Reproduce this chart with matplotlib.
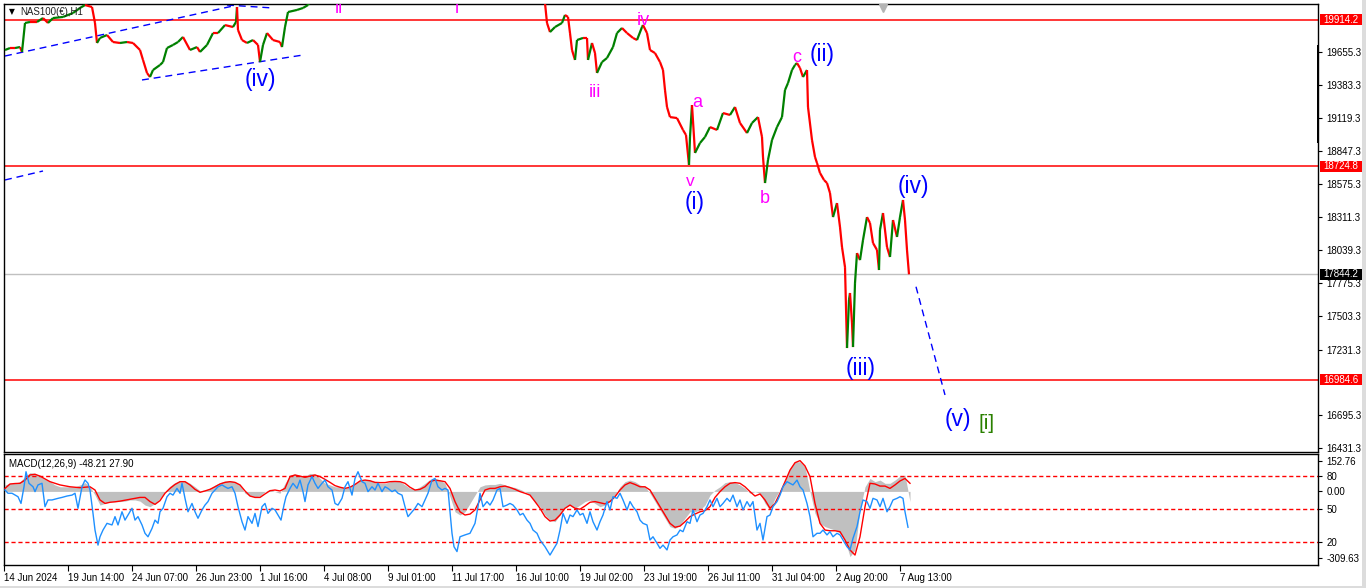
import matplotlib
matplotlib.use("Agg")
import matplotlib.pyplot as plt
import numpy as np
from matplotlib.collections import LineCollection
from matplotlib.patches import Rectangle

plt.rcParams['font.family'] = ['Liberation Sans', 'DejaVu Sans']

# ---- data (x = H1 bar number, 1 px per bar) ----
# price path before the top of the window is left
price_seg1 = [(5, 19670), (10, 19686), (15, 19686), (20, 19694), (22, 19654), (25, 19890),
              (30, 19898), (37, 19898), (43, 19930), (48, 19890), (53, 19930), (63, 19939),
              (73, 19971), (80, 20012), (85, 20036), (92, 20020), (95, 19890), (97, 19727),
              (100, 19768), (107, 19792), (113, 19735), (120, 19727), (127, 19735), (133, 19727),
              (140, 19670), (143, 19589), (147, 19483), (150, 19450), (153, 19507), (160, 19548),
              (163, 19572), (167, 19686), (173, 19711), (178, 19735), (183, 19776), (190, 19670),
              (197, 19694), (200, 19654), (207, 19711), (213, 19808), (218, 19808), (225, 19873),
              (233, 19857), (236, 19898), (237, 20020), (238, 19833), (242, 19751), (247, 19727),
              (253, 19751), (258, 19711), (260, 19572), (263, 19711), (267, 19808), (273, 19751),
              (280, 19735), (282, 19694), (285, 19857), (288, 19979), (297, 19996), (303, 20012),
              (308, 20036), (312, 20090)]
# price path after it comes back into view
price_seg2 = [(543, 20090), (545, 20052), (547, 19890), (550, 19816), (555, 19857), (562, 19890),
              (565, 19955), (568, 19939), (570, 19808), (572, 19670), (575, 19589), (577, 19751),
              (583, 19768), (587, 19768), (588, 19589), (592, 19727), (595, 19645), (597, 19483),
              (602, 19572), (607, 19605), (613, 19694), (617, 19808), (622, 19849), (627, 19808),
              (633, 19768), (637, 19751), (642, 19857), (643, 19873), (647, 19808), (650, 19670),
              (655, 19645), (660, 19572), (663, 19507), (665, 19344), (667, 19206), (670, 19124),
              (677, 19116), (683, 19019), (686, 18978), (689, 18734), (690, 18962), (692, 19222),
              (695, 18832), (700, 18913), (705, 18962), (710, 19043), (717, 19019), (723, 19157),
              (730, 19141), (735, 19206), (740, 19076), (747, 18994), (752, 19076), (758, 19124),
              (762, 18962), (763, 18799), (765, 18587), (768, 18775), (772, 18937), (777, 19043),
              (782, 19124), (785, 19344), (788, 19401), (792, 19507), (795, 19548), (797, 19564),
              (800, 19523), (803, 19450), (807, 19507), (808, 19206), (812, 18937), (815, 18799),
              (817, 18750), (820, 18669), (824, 18612), (827, 18587), (830, 18506), (833, 18310),
              (837, 18424), (840, 18229), (842, 18066), (845, 17903), (847, 17244), (849, 17635),
              (850, 17692), (852, 17448), (853, 17252), (855, 17773), (857, 18017), (860, 17960),
              (863, 18123), (867, 18310), (870, 18262), (873, 18099), (877, 18042), (879, 17879),
              (880, 18205), (883, 18343), (887, 18066), (890, 17985), (893, 18286), (897, 18148),
              (900, 18310), (903, 18449), (905, 18286), (907, 18042), (909, 17844.2)]

levels_red = [19914.2, 18724.8, 16984.6]
last_close = 17844.2
price_ticks = [19655.3, 19383.3, 19119.3, 18847.3, 18575.3, 18311.3, 18039.3,
               17775.3, 17503.3, 17231.3, 16695.3, 16431.3]

# blue dashed trend lines ((bar, price), (bar, price))
trend_lines = [((5, 19621), (233, 20028)), ((227, 20036), (273, 20012)),
               ((142, 19426), (303, 19629)), ((5, 18612), (43, 18685)),
               ((916, 17743), (945, 16862))]

# wave labels: text, bar, price, colour, size
waves = [("(iv)", 260, 19426, 'blue', 16.5), ("ii", 339, 19971, '#ff00ff', 13),
         ("i", 457, 19971, '#ff00ff', 13), ("iv", 643, 19914, '#ff00ff', 13),
         ("iii", 595, 19328, '#ff00ff', 13), ("a", 697, 19239, '#ff00ff', 13),
         ("v", 690, 18600, '#ff00ff', 12.5), ("(i)", 695, 18432, 'blue', 16.5),
         ("b", 765, 18465, '#ff00ff', 13), ("c", 797, 19605, '#ff00ff', 13),
         ("(ii)", 822, 19637, 'blue', 16.5), ("(iv)", 913, 18555, 'blue', 16.5),
         ("(iii)", 861, 17081, 'blue', 16.5), ("(v)", 958, 16666, 'blue', 16.5),
         ("[i]", 987, 16626, '#2a8000', 15)]

# MACD panel, every 5 bars from bar 5 to 910
macd_bar = list(range(5, 915, 5))
macd_hist = [28, 35, 35, 42, 64, 81, 78, 64, 52, 42,
             28, 20, 20, 20, 20, 28, 38, 20, -16, -59,
             -52, -44, -44, -44, -42, -37, -37, -42, -59, -66,
             -52, -30, -1, 23, 38, 46, 46, 35, 20, 3,
             6, 13, 28, 38, 45, 46, 42, 28, -8, -20,
             -23, -20, -1, 9, -1, -8, 35, 71, 75, 64,
             66, 78, 75, 56, 35, 28, 20, 20, 13, 20,
             35, 49, 52, 49, 42, 35, 35, 42, 45, 42,
             28, 13, 9, 20, 35, 52, 56, 49, 35, -23,
             -88, -102, -88, -52, -16, 20, 28, 30, 30, 35,
             28, 20, 17, 9, -1, -16, -44, -66, -102, -124,
             -131, -102, -66, -59, -73, -59, -44, -37, -52, -66,
             -59, -44, -16, 20, 42, 49, 42, 28, 20, -8,
             -44, -80, -116, -152, -160, -145, -116, -88, -88, -80,
             -59, -16, 6, 20, 38, 42, 38, 28, 13, -8,
             -1, -8, -52, -80, -30, 6, 49, 100, 128, 128,
             107, -1, -95, -138, -152, -160, -167, -181, -210, -282,
             -253, -80, 20, 56, 42, 49, 35, 35, 49, 66,
             70, -44]
macd_signal = [13, 32, 34, 35, 49, 71, 74, 66, 54, 42,
               35, 28, 24, 20, 18, 16, 18, 20, 6, -37,
               -52, -47, -45, -42, -38, -34, -30, -26, -26, -44,
               -56, -40, -8, 13, 30, 42, 42, 28, 9, -4,
               2, 9, 20, 32, 39, 42, 39, 28, 2, -20,
               -26, -26, -11, 3, 6, 2, 13, 64, 71, 66,
               61, 66, 71, 64, 52, 39, 25, 18, 13, 18,
               30, 45, 49, 46, 39, 38, 38, 42, 43, 42,
               35, 18, 6, 9, 20, 42, 49, 46, 42, 13,
               -44, -88, -102, -98, -80, -37, 6, 13, 13, 20,
               23, 17, 9, -1, -8, -16, -44, -73, -109, -128,
               -124, -102, -73, -59, -73, -77, -63, -47, -44, -49,
               -54, -44, -23, 6, 28, 38, 30, 20, 20, 6,
               -30, -66, -102, -138, -155, -150, -131, -109, -98, -88,
               -83, -66, -26, -1, 20, 35, 38, 35, 20, -1,
               -20, -11, -37, -73, -52, -8, 42, 92, 124, 133,
               110, 64, -52, -138, -167, -170, -170, -174, -210, -253,
               -275, -196, -66, 35, 32, 23, 23, 13, 28, 45,
               56, 35]
macd_line = [(5, 6), (8, -8), (12, -8), (18, -23), (21, -52), (24, 20), (26, 85), (29, 35),
             (33, 20), (35, -1), (38, 28), (42, 35), (45, -66), (48, -37), (52, -37), (58, -30),
             (62, -26), (67, -20), (72, -16), (75, -8), (78, -73), (82, 20), (85, 49), (88, 35),
             (90, 6), (93, -95), (95, -167), (98, -232), (100, -196), (103, -167), (107, -138),
             (112, -145), (115, -109), (118, -145), (122, -88), (125, -124), (128, -102),
             (132, -73), (135, -124), (138, -109), (142, -145), (145, -181), (148, -196),
             (152, -160), (155, -124), (158, -138), (160, -88), (163, -73), (167, -23), (170, -8),
             (173, -16), (177, 13), (180, -8), (182, 35), (185, -30), (188, -88), (192, -52),
             (195, -88), (198, -116), (202, -80), (205, -59), (208, -44), (212, -8), (215, 6),
             (218, 20), (222, 28), (225, 20), (228, 13), (232, 20), (235, -8), (238, -66),
             (242, -131), (245, -167), (248, -109), (252, -138), (255, -95), (258, -152),
             (262, -66), (265, -52), (268, -95), (272, -73), (275, -80), (278, -102), (281, -124),
             (284, -59), (286, -23), (290, 13), (293, 35), (297, 13), (300, 49), (303, -1),
             (305, -44), (308, 28), (312, 64), (315, 35), (318, 13), (322, 35), (325, 49),
             (328, 20), (332, 6), (335, -52), (338, -59), (342, -30), (345, 20), (348, 42),
             (352, -16), (355, 56), (358, 85), (362, 42), (365, 35), (368, -1), (372, 20),
             (375, 6), (378, 35), (382, -1), (385, 20), (388, 13), (392, -1), (395, 6), (398, -8),
             (402, -16), (405, -66), (408, -109), (412, -88), (415, -73), (418, -52), (422, -66),
             (425, -37), (428, -8), (432, 49), (435, 56), (438, 20), (442, 6), (445, 13), (448, 6),
             (452, -181), (454, -239), (457, -260), (460, -196), (465, -188), (470, -181),
             (475, -138), (478, -66), (480, -8), (483, -66), (487, -44), (490, -59), (493, -37),
             (497, 6), (500, 13), (503, -66), (507, -59), (510, -52), (513, -59), (517, -80),
             (520, -102), (523, -95), (527, -124), (530, -138), (533, -167), (537, -181),
             (540, -210), (545, -239), (550, -275), (553, -253), (557, -224), (560, -167),
             (563, -95), (567, -138), (570, -102), (573, -109), (577, -80), (580, -102),
             (583, -95), (587, -138), (590, -88), (593, -131), (597, -167), (600, -131),
             (603, -102), (607, -44), (610, -80), (613, -23), (617, -30), (620, -8), (623, -37),
             (627, -80), (630, -44), (633, -66), (637, -88), (640, -124), (643, -138), (647, -145),
             (650, -210), (653, -196), (657, -224), (660, -246), (663, -232), (667, -253),
             (670, -210), (673, -196), (677, -188), (680, -167), (683, -174), (687, -131),
             (690, -138), (693, -80), (697, -131), (700, -102), (703, -95), (707, -66), (710, -37),
             (713, -66), (717, -30), (720, -66), (723, -52), (727, -30), (730, -44), (733, -16),
             (737, -66), (740, -37), (743, -80), (747, -44), (750, -66), (753, -44), (757, -167),
             (760, -138), (763, -210), (767, -109), (770, -102), (773, -66), (777, -44), (780, -16),
             (783, 20), (787, 42), (790, 35), (793, 28), (797, 49), (800, 20), (803, 6), (807, -52),
             (810, -109), (813, -196), (817, -181), (820, -181), (823, -167), (827, -188),
             (830, -174), (833, -196), (837, -181), (840, -188), (843, -210), (847, -239),
             (850, -253), (853, -203), (857, -152), (860, -88), (863, -37), (867, -44), (870, -73),
             (873, -30), (877, -37), (880, -66), (883, -30), (887, -88), (890, -66), (893, -37),
             (897, -30), (900, -23), (903, -30), (905, -88), (908, -155)]
macd_levels = [66.5, -76, -218.6]
macd_tick_pos = [131, 66.5, 0, -76, -218.6, -288]
macd_tick_lab = ['152.76', '80', '0.00', '50', '20', '-309.63']

date_labels = ['14 Jun 2024', '19 Jun 14:00', '24 Jun 07:00', '26 Jun 23:00', '1 Jul 16:00',
               '4 Jul 08:00', '9 Jul 01:00', '11 Jul 17:00', '16 Jul 10:00', '19 Jul 02:00',
               '23 Jul 19:00', '26 Jul 11:00', '31 Jul 04:00', '2 Aug 20:00', '7 Aug 13:00']
date_bars = [4 + 64 * i for i in range(len(date_labels))]

# ---- figure ----
W, H = 1366, 588
fig = plt.figure(figsize=(W / 100, H / 100), dpi=100)
fig.patch.set_facecolor('white')


def fx(px):
    return px / W


def fy(py):
    return 1 - py / H


ax = fig.add_axes([fx(4), fy(452), fx(1318) - fx(4), fy(4) - fy(452)])
am = fig.add_axes([fx(4), fy(565), fx(1318) - fx(4), fy(454) - fy(565)])

for a in (ax, am):
    a.set_xlim(4, 1318)
    for s in a.spines.values():
        s.set_color('black')
        s.set_linewidth(1)
    a.yaxis.tick_right()
    a.tick_params(axis='y', length=3, width=0.8, pad=3, labelsize=7, colors='black')

ax.set_ylim(16397.7, 20044.4)
ax.set_xticks([])

# levels
for lv in levels_red:
    ax.axhline(lv, color='#ff0000', lw=1.1, zorder=1)
ax.axhline(last_close, color='#c0c0c0', lw=1, zorder=1)


def draw_price(pts):
    b = np.array([p[0] for p in pts], float)
    c = np.array([p[1] for p in pts], float)
    segs = np.stack([np.column_stack([b[:-1], c[:-1]]),
                     np.column_stack([b[1:], c[1:]])], axis=1)
    cols = ['#008000' if c2 > c1 else '#ff0000' for c1, c2 in zip(c[:-1], c[1:])]
    ax.add_collection(LineCollection(segs, colors=cols, linewidths=1.6, zorder=3))


draw_price(price_seg1)
draw_price(price_seg2)

for (b1, p1), (b2, p2) in trend_lines:
    ax.plot([b1, b2], [p1, p2], color='blue', lw=1, ls=(0, (5, 3.5)), zorder=2)

for txt, b, p, col, fs in waves:
    va = 'baseline' if txt in ('ii', 'i') else 'center'
    ax.text(b, p, txt, color=col, fontsize=fs, ha='center', va=va, zorder=4, clip_on=True)

ax.set_yticks(price_ticks)
ax.set_yticklabels([f'{t:.1f}' for t in price_ticks])

# small grey shift marker at the top
ax.plot([883], [20010], marker='v', ms=6, color='#b4b4b4', clip_on=False, zorder=5)

# MACD panel
am.set_ylim(-318, 161.6)
am.fill_between(macd_bar, 0, macd_hist, color='#c0c0c0', lw=0, zorder=1)
for lv in macd_levels:
    am.axhline(lv, color='#ff0000', lw=1, ls=(0, (3, 2)), zorder=2)
am.plot(macd_bar, macd_signal, color='#ff0000', lw=1, zorder=3)
am.plot([p[0] for p in macd_line], [p[1] for p in macd_line], color='#1e90ff', lw=1, zorder=4)
am.set_yticks(macd_tick_pos)
am.set_yticklabels(macd_tick_lab)
am.set_xticks(date_bars)
am.set_xticklabels(date_labels, ha='left')
am.tick_params(axis='x', length=4, width=0.8, pad=2, labelsize=7, colors='black')
am.text(0.004, 0.955, 'MACD(12,26,9) -48.21 27.90', transform=am.transAxes,
        fontsize=7, va='top', ha='left', color='black')

# title
fig.text(fx(9), fy(12), '\u25bc', fontsize=5.5, family='DejaVu Sans', va='center', ha='left')
fig.text(fx(20), fy(12), 'NAS100(\u20ac),H1', fontsize=7, va='center', ha='left', color='#202020')

# price boxes on the right scale
fig.canvas.draw()


def price_box(level, fc):
    _, yd = ax.transData.transform((0, level))
    fig.patches.append(Rectangle((fx(1320), (yd - 5.5) / H), 42 / W, 11 / H,
                                 transform=fig.transFigure, fc=fc, ec='none', zorder=5))
    fig.text(fx(1323), yd / H, f'{level:.1f}', color='white', fontsize=7,
             va='center', ha='left', zorder=6)


for lv in levels_red:
    price_box(lv, '#ff0000')
price_box(last_close, 'black')

# thick bar on the price scale
fig.patches.append(Rectangle((fx(1316.7), fy(143)), 2.6 / W, 98 / H,
                             transform=fig.transFigure, fc='black', ec='none', zorder=5))
# window edges
fig.patches.append(Rectangle((0, 0), 1, 2.5 / H, transform=fig.transFigure,
                             fc='#dcdcdc', ec='none', zorder=5))
fig.patches.append(Rectangle((fx(1362), 0), 4 / W, 1, transform=fig.transFigure,
                             fc='#dcdcdc', ec='none', zorder=5))

fig.savefig('out.png', dpi=100)
